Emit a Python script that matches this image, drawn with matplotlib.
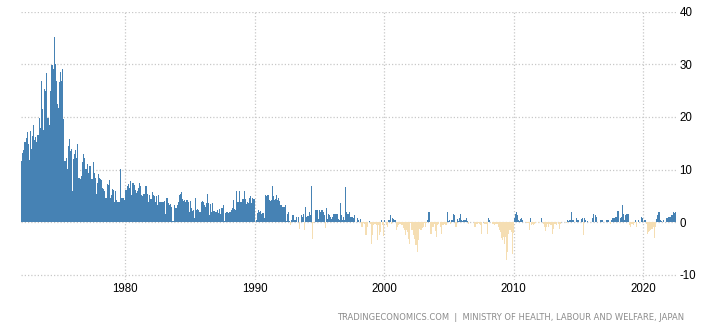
import numpy as np
import matplotlib
matplotlib.use("Agg")
import matplotlib.pyplot as plt

# Japan wage growth, year-on-year %, monthly from Jan 1972
first_year = 1972

yoy_1970s = [
    11.6, 13.2, 13.7, 15.2, 16.1, 17.1, 14.8, 11.8, 17.3, 14.0, 16.3, 18.4,
    15.6, 16.2, 15.3, 16.5, 19.9, 17.9, 26.8, 21.5, 17.5, 25.3, 24.9, 28.3,
    19.9, 19.9, 18.4, 24.9, 29.8, 29.1, 35.1, 30.0, 26.8, 22.4, 21.8, 26.6,
    28.5, 26.8, 29.1, 19.7, 11.6, 12.2, 10.1, 14.4, 15.9, 13.5, 13.9, 5.9,
    12.0, 12.9, 13.7, 12.3, 14.8, 8.5, 8.2, 8.7, 11.4, 12.9, 12.2, 10.1,
    10.1, 11.0, 9.3, 10.6, 10.6, 8.2, 11.4, 9.3, 8.5, 5.3, 7.4, 9.1,
    8.5, 8.2, 8.0, 6.6, 6.3, 5.9, 4.7, 7.2, 7.0, 8.0, 4.6, 5.1,
    6.3, 6.1, 3.8, 5.9, 4.2, 3.8, 3.8, 10.1, 4.7, 4.7, 4.6, 4.2,
]
yoy_1980s = [
    6.1, 6.1, 6.8, 7.2, 6.5, 7.8, 5.1, 7.4, 7.0, 6.2, 5.6, 5.9,
    6.5, 7.5, 6.8, 5.1, 4.9, 5.4, 5.4, 6.8, 5.4, 3.8, 5.1, 4.5,
    4.4, 5.8, 5.1, 4.9, 3.8, 4.9, 3.2, 5.1, 3.8, 3.8, 3.8, 3.8,
    4.1, 1.5, 4.6, 4.6, 3.7, 3.2, 3.5, 3.0, 0.2, 3.2, 2.8, 2.8,
    3.2, 3.8, 5.1, 5.4, 5.7, 4.4, 4.0, 4.3, 3.9, 4.3, 3.9, 1.9,
    4.0, 2.8, 2.1, 2.3, 0.8, 4.7, 2.3, 2.6, 2.3, 2.0, 3.8, 4.0,
    3.9, 3.3, 3.0, 3.6, 5.3, 3.7, 1.3, 3.4, 1.9, 3.7, 2.1, 1.9,
    1.9, 2.3, 1.7, 2.6, 1.6, 2.7, 2.7, 3.2, 0.2, 1.7, 1.9, 1.8,
    1.9, 2.0, 2.3, 2.7, 4.2, 2.5, 2.3, 5.9, 3.8, 3.8, 5.9, 3.8,
    4.4, 4.4, 5.9, 4.4, 3.4, 3.8, 3.6, 4.7, 4.9, 3.7, 4.7, 4.5,
]
yoy_1990s = [
    0.1, 0.4, 1.7, 2.3, 2.0, 2.2, 1.6, 1.8, 1.8, 0.9, 5.1, 4.9,
    5.1, 4.2, 4.1, 4.3, 6.8, 4.9, 4.3, 4.4, 5.2, 4.2, 4.6, 4.1,
    3.2, 3.0, 3.0, 2.9, 3.2, 0.3, 1.5, 1.9, 0.3, -0.6, 0.4, 1.3,
    1.3, 0.4, 1.0, 0.1, 1.1, -1.3, 0.0, 1.3, 1.0, 1.5, -1.5, 2.9,
    1.1, 1.2, 2.0, 1.3, 6.8, -3.2, -0.1, 0.1, 2.3, 2.3, 2.3, 0.6,
    2.3, 2.0, 2.3, 1.9, 1.3, -1.0, 2.7, 0.6, 1.5, 1.3, 1.1, 0.6,
    1.0, 1.6, 1.6, 1.6, 1.6, 0.6, 0.5, 3.6, 1.3, 0.5, 1.0, 0.4,
    6.7, 1.9, 1.6, 1.9, 1.0, 1.0, 1.0, 0.9, 1.3, 0.0, 0.0, 0.8,
    0.5, 0.0, 0.6, -0.8, -0.1, -0.4, -2.5, -2.5, -0.8, 0.0, 0.3, -0.4,
    -4.2, -2.5, -0.6, -0.4, -0.6, -3.4, -0.6, -2.5, -1.8, 0.4, -0.6, -2.6,
]
yoy_2000s = [
    0.5, 0.1, -0.6, -0.8, 0.5, 1.3, -0.3, 0.8, 0.6, 0.4, 0.4, -1.4,
    -0.9, -0.6, -0.4, -0.3, -0.6, -1.1, -1.4, -2.5, -1.5, -1.8, -3.2, -4.2,
    -0.1, -1.4, -1.4, -2.4, -3.2, -4.4, -5.6, -3.3, -1.2, -1.4, -1.4, -1.0,
    -0.8, -0.1, -0.8, -0.1, 0.5, 2.0, -2.2, -2.2, -0.9, -0.8, -0.3, -1.6,
    -2.8, -0.6, -0.4, 0.1, -0.9, -2.2, -0.6, -0.3, -0.5, -0.5, 2.0, 0.3,
    0.5, -0.3, 0.5, 0.5, 1.5, 1.3, -0.9, 0.6, 0.3, 0.9, 1.5, 0.4,
    0.3, 0.4, 0.4, 0.5, 0.9, 0.3, -0.3, 0.1, 0.1, 0.0, 0.1, -0.9,
    -0.9, -0.4, -0.4, -0.1, -0.3, -0.6, -2.2, 0.1, -0.3, -0.4, -0.3, -2.3,
    0.9, 0.5, 0.1, 0.1, -0.3, -0.4, -0.5, -0.3, -0.3, -0.9, -1.4, -1.8,
    -2.9, -3.4, -2.8, -4.1, -2.7, -7.1, -5.6, -2.2, -1.5, -1.8, -6.0, -2.0,
]
yoy_2010s = [
    0.9, 1.5, 2.0, 1.3, 0.5, 0.3, 0.6, 0.9, 0.4, 0.1, 0.1, -0.1,
    -0.1, -0.1, -1.5, 0.9, -0.5, -0.4, -0.5, -0.3, -0.1, 0.1, -0.1, 0.0,
    0.1, 0.8, 0.1, -0.4, -0.9, -1.6, -0.8, -0.4, -0.9, -0.3, -0.6, -2.2,
    -1.3, -0.4, -0.3, -0.6, 0.1, -0.3, -1.3, -0.4, 0.1, 0.1, 0.1, 0.0,
    -0.1, 0.4, 0.3, 0.5, 0.5, 1.9, 0.5, 0.5, 0.0, 0.0, 0.9, 0.4,
    0.1, 0.1, 0.6, 0.8, -2.4, 0.9, 0.5, 0.1, 0.3, 0.1, 0.0, 0.0,
    0.8, 1.5, 0.0, 1.3, 1.1, 0.1, 0.1, 0.1, 0.4, 0.5, 0.5, 0.1,
    0.1, 0.5, 0.5, 0.4, 0.0, -0.4, 0.5, 0.9, 0.9, 0.9, 1.0, 1.0,
    2.2, 0.1, 0.9, 1.0, 3.2, 1.6, 0.5, 1.4, 1.5, 1.6, 1.6, -0.5,
    -0.9, -0.3, -0.6, -0.1, 0.4, -0.9, 0.0, 0.5, 0.1, 0.0, 1.0, 0.9,
]
yoy_2020s = [
    0.0, 0.4, -0.3, -2.2, -1.8, -1.6, -1.4, -1.3, -1.3, -0.9, -3.0, -0.9,
    0.6, 1.4, 1.9, 0.4, 0.3, 0.1, 0.5, 0.1, 0.1, 0.8, 0.9, 1.0,
    1.0, 1.0, 1.3, 1.9, 1.8, 2.0,
]

decade_ticks = [1980, 1990, 2000, 2010, 2020]
y_ticks = [-10, 0, 10, 20, 30, 40]
source = "TRADINGECONOMICS.COM  |  MINISTRY OF HEALTH, LABOUR AND WELFARE, JAPAN"

plt.rcParams["axes.unicode_minus"] = False

values = np.array(yoy_1970s + yoy_1980s + yoy_1990s + yoy_2000s + yoy_2010s + yoy_2020s)
months = first_year + np.arange(len(values)) / 12.0
colors = np.where(values >= 0, "#4682b4", "#f5deb3")

fig = plt.figure(figsize=(7.11, 3.25), dpi=100)
ax = fig.add_axes([21 / 711, 1 - 280 / 325, 655 / 711, 268.3 / 325])

ax.bar(months, values, width=1 / 12, align="edge", color=colors,
       linewidth=0, antialiased=False)

ax.set_xlim(1971.98, 2022.52)
ax.set_ylim(-10.96, 40)
ax.set_xticks(decade_ticks)
ax.set_yticks(y_ticks)

ax.set_axisbelow(True)
ax.grid(True, color="#c8c8c8", linestyle=(0, (1, 1.6)), linewidth=0.9)
for s in ax.spines.values():
    s.set_visible(False)

ax.yaxis.tick_right()
ax.tick_params(axis="both", length=0, labelsize=8.3, labelcolor="#000000")
ax.tick_params(axis="y", pad=2.5)
ax.tick_params(axis="x", pad=2)
for lab in ax.get_xticklabels() + ax.get_yticklabels():
    lab.set_fontfamily("Liberation Sans")

fig.text(684 / 711, 1 - 318 / 325, source, ha="right", va="center",
         fontsize=6.05, color="#8c8c8c", family="DejaVu Sans")

fig.savefig("out.png", dpi=100)
